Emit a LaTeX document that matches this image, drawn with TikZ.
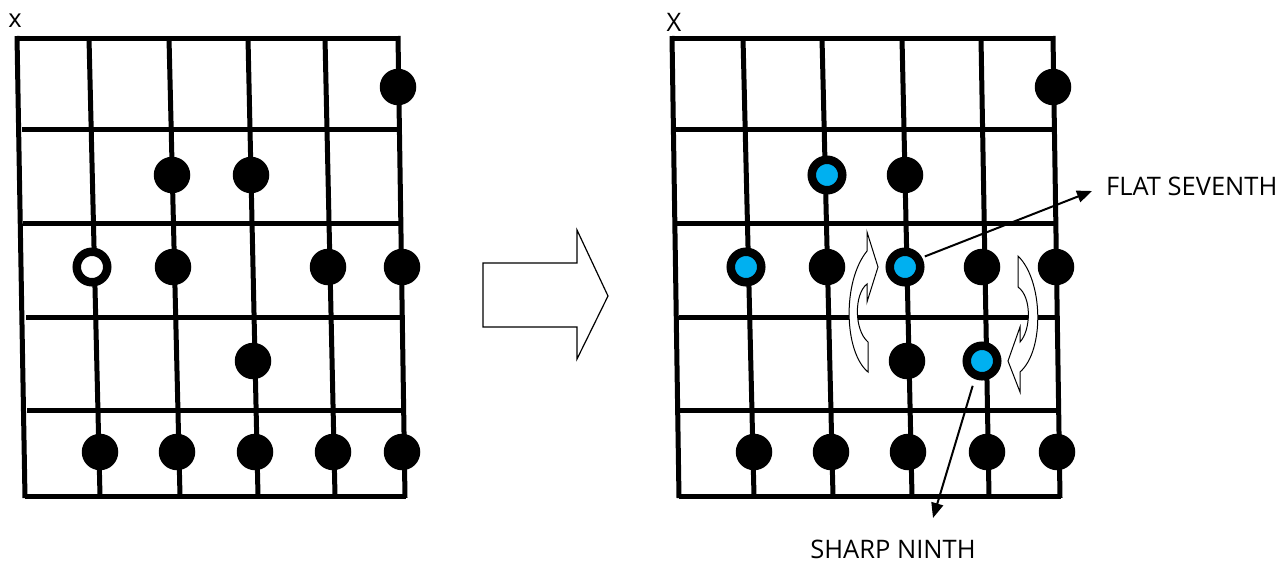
\documentclass[tikz,border=0pt]{standalone}
\usepackage{fontspec}
\setmainfont{Open Sans}
\usetikzlibrary{arrows.meta}
\definecolor{cyanblue}{HTML}{00B0F0}
\begin{document}
\begin{tikzpicture}[x=1pt,y=-1pt,
  fret/.style={line width=5pt},
  dot/.style={circle, fill=black, minimum size=36.5pt, inner sep=0pt},
  ring/.style={circle, draw=black, line width=8.5pt, fill=white, minimum size=30.5pt, inner sep=0pt},
  bluedot/.style={ring, fill=cyanblue},
  lbl/.style={font=\fontsize{25.5}{30}\selectfont, inner sep=0pt},
  pointer/.style={line width=2pt, -{Triangle[length=15pt,width=12pt]}},
  outline/.style={draw=black, fill=white, line width=1.2pt, line join=miter}
]
\useasboundingbox (0,0) rectangle (1283,563);

% ---------------- left grid ----------------
\draw[fret] (17,38) -- (400,38);
\draw[fret] (22,129) -- (400,129);
\draw[fret] (23,223) -- (401,223);
\draw[fret] (26,317) -- (405,317);
\draw[fret] (27,410) -- (403,410);
\draw[fret] (25,496) -- (406,496);
\draw[fret] (17,36) -- (25,498);
\draw[fret] (89,38) -- (100,496);
\draw[fret] (169,38) -- (180,496);
\draw[fret] (248,38) -- (258,496);
\draw[fret] (325,38) -- (335,496);
\draw[fret] (398,36) -- (405,498);

\node[lbl] (lx) at (15,21) {x};

\node[dot] (l1) at (398,87) {};
\node[dot] (l2) at (172,175) {};
\node[dot] (l3) at (251,175) {};
\node[ring] (l4) at (92,267) {};
\node[dot] (l5) at (173,267) {};
\node[dot] (l6) at (328,267) {};
\node[dot] (l7) at (402,267) {};
\node[dot] (l8) at (253,361) {};
\node[dot] (l9) at (100,452) {};
\node[dot] (l10) at (177,452) {};
\node[dot] (l11) at (255,452) {};
\node[dot] (l12) at (333,452) {};
\node[dot] (l13) at (402,452) {};

% ---------------- block arrow ----------------
\draw[outline] (483,263) -- (577,263) -- (577,230) -- (608,296) -- (577,359) -- (577,327) -- (483,327) -- cycle;

% ---------------- right grid ----------------
\draw[fret] (672,38) -- (1054,38);
\draw[fret] (676,129) -- (1054,129);
\draw[fret] (677,223) -- (1055,223);
\draw[fret] (679,317) -- (1057,317);
\draw[fret] (679,410) -- (1058,410);
\draw[fret] (679,496) -- (1061,496);
\draw[fret] (672,36) -- (679,498);
\draw[fret] (743,38) -- (754,496);
\draw[fret] (822,38) -- (833,496);
\draw[fret] (902,38) -- (912,496);
\draw[fret] (981,38) -- (989,496);
\draw[fret] (1053,36) -- (1060,498);

\node[lbl] (rx) at (674,22) {X};

\node[dot] (r1) at (1053,87) {};
\node[bluedot] (r2) at (827,175) {};
\node[dot] (r3) at (905,175) {};
\node[bluedot] (r4) at (746,267) {};
\node[dot] (r5) at (827,267) {};
\node[bluedot] (r6) at (905,267) {};
\node[dot] (r7) at (982,267) {};
\node[dot] (r8) at (1056,267) {};
\node[dot] (r9) at (907,361) {};
\node[bluedot] (r10) at (982,361) {};
\node[dot] (r11) at (754,452) {};
\node[dot] (r12) at (831,452) {};
\node[dot] (r13) at (908,452) {};
\node[dot] (r14) at (987,452) {};
\node[dot] (r15) at (1057,452) {};

% curved arrows
\draw[outline, line width=1pt] (868,342) -- (868,372)
  .. controls (844,352) and (842,282) .. (867,251)
  -- (867,232) -- (878,267) -- (867,302) -- (867,284)
  .. controls (854,294) and (854,330) .. (868,342) -- cycle;
\draw[outline, line width=1pt] (1018,256) -- (1018,287)
  .. controls (1032,297) and (1031,330) .. (1020,342)
  -- (1020,327) -- (1008,361) -- (1020,392) -- (1020,372)
  .. controls (1045,350) and (1043,280) .. (1018,256) -- cycle;

% labels
\node[lbl, anchor=west] (fs) at (1106,186) {FLAT SEVENTH};
\node[lbl] (sn) at (893,549) {SHARP NINTH};

\draw[pointer, shorten <=3pt] (r6.29) -- ([xshift=-14pt,yshift=-5pt]fs.west);
\draw[pointer, shorten <=7pt] (r10.-112) -- ([xshift=40pt,yshift=31pt]sn.center);
\end{tikzpicture}
\end{document}
